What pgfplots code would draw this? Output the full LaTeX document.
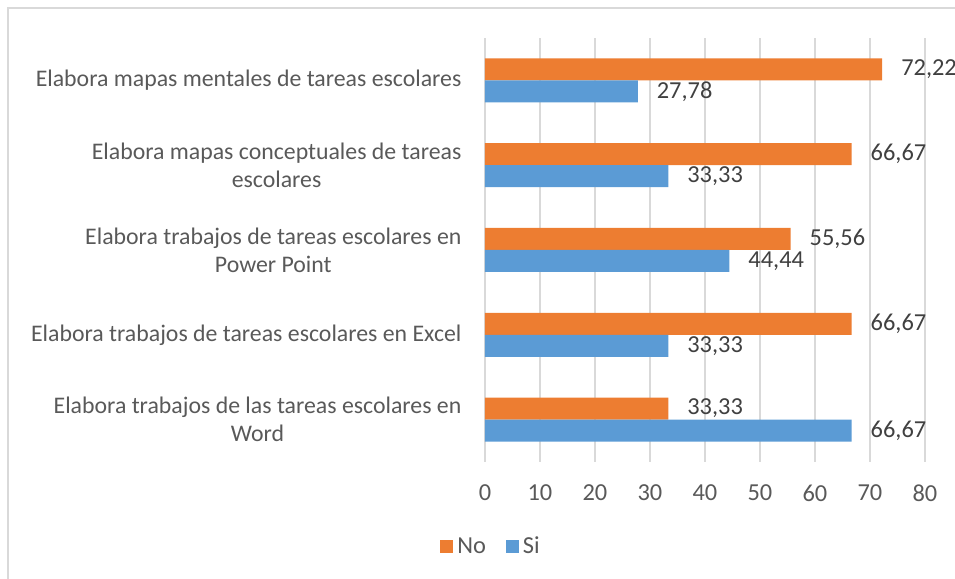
\documentclass[border=0pt]{standalone}
\usepackage{pgfplots}
\pgfplotsset{compat=1.18}
\usepackage{fontspec}
\setmainfont{Carlito}
\definecolor{cNo}{HTML}{ED7D31}
\definecolor{cSi}{HTML}{5B9BD5}
\definecolor{txt}{HTML}{595959}
\definecolor{lbl}{HTML}{404040}
\definecolor{grd}{HTML}{D9D9D9}
\begin{document}
\begin{tikzpicture}
\begin{axis}[scale only axis,width=220pt,height=212pt,
  xbar,bar width=11pt,
  xmin=0,xmax=80,ymin=-0.5,ymax=4.5,
  xtick={0,10,...,80},ytick={0,1,2,3,4},
  yticklabels={{Elabora trabajos de las tareas escolares en\\Word},
    {Elabora trabajos de tareas escolares en Excel},
    {Elabora trabajos de tareas escolares en\\Power Point},
    {Elabora mapas conceptuales de tareas\\escolares},
    {Elabora mapas mentales de tareas escolares}},
  axis line style={draw=none},
  xmajorgrids=true,major grid style={grd,line width=0.9pt},
  tick style={draw=none},
  /pgf/number format/assume math mode=true,
  xticklabel style={font=\fontsize{12.2}{14}\selectfont,text=txt,yshift=-8pt},
  yticklabel style={font=\fontsize{11.9}{14}\selectfont,text=txt,align=center,xshift=-4pt},
  point meta=x,
  nodes near coords={\pgfmathprintnumber[fixed,precision=2,fixed zerofill,use comma]{\pgfplotspointmeta}},
  nodes near coords style={font=\fontsize{12.2}{14}\selectfont,text=lbl,anchor=west,xshift=6pt},
  legend columns=2,
  legend style={draw=none,at={(rel axis cs:0.016,-0.2005)},anchor=center,
    font=\fontsize{12.2}{14}\selectfont,text=txt,
    /tikz/every even column/.append style={column sep=8pt}},
  legend image code/.code={\fill[#1] (0pt,-3.25pt) rectangle (6.5pt,3.25pt);},
  clip=false]
\addplot[fill=cNo,draw=none,bar shift=5.5pt] coordinates {(33.33,0) (66.67,1) (55.56,2) (66.67,3) (72.22,4)};
\addlegendentry{No}
\addplot[fill=cSi,draw=none,bar shift=-5.5pt] coordinates {(66.67,0) (33.33,1) (44.44,2) (33.33,3) (27.78,4)};
\addlegendentry{Si}
\coordinate (bbA) at (rel axis cs:-1.1023,-0.2759);
\coordinate (bbB) at (rel axis cs:1.0682,1.0896);
\draw[grd,line width=1pt] (rel axis cs:-1.0841,-0.2759) -- (rel axis cs:-1.0841,1.0708) -- (rel axis cs:1.0682,1.0708);
\end{axis}
\pgfresetboundingbox
\useasboundingbox (bbA) rectangle (bbB);
\end{tikzpicture}
\end{document}
